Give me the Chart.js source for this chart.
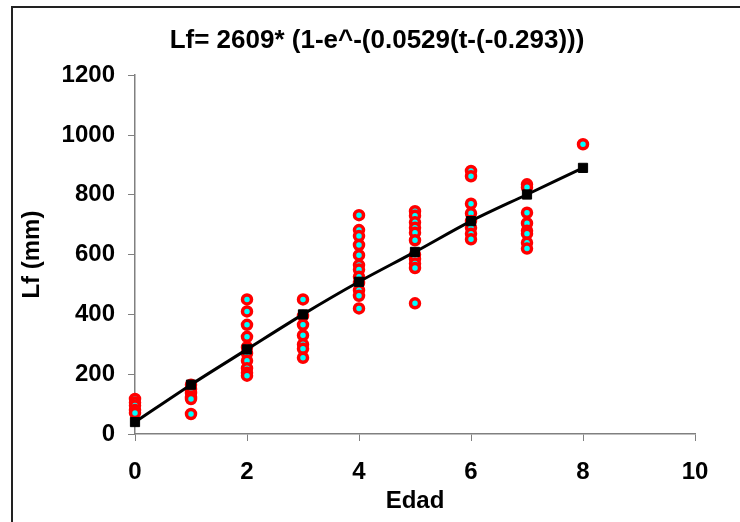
<!DOCTYPE html>
<html>
<head>
<meta charset="utf-8">
<script src="https://cdn.jsdelivr.net/npm/chart.js@4/dist/chart.umd.min.js"></script>
<style>
  html, body { margin: 0; padding: 0; background: #ffffff; }
  #wrap { width: 740px; height: 522px; position: relative; }
</style>
</head>
<body>
<div id="wrap"><canvas id="c" width="740" height="522"></canvas></div>
<script>
// ---- data ----
const chartTitle = "Lf= 2609* (1-e^-(0.0529(t-(-0.293)))";
const xTitle = "Edad";
const yTitle = "Lf (mm)";

const ages = [0, 1, 2, 3, 4, 5, 6, 7, 8];
// observed fork length (mm) per age group
const observedLf = [
  [117, 105, 95, 80, 70],
  [165, 150, 137, 125, 117, 67],
  [450, 410, 365, 325, 290, 270, 245, 220, 205, 195],
  [450, 395, 365, 330, 300, 285, 255],
  [732, 682, 662, 632, 598, 565, 550, 526, 505, 481, 462, 420],
  [745, 730, 708, 690, 673, 648, 600, 585, 570, 555, 437],
  [880, 862, 770, 738, 712, 690, 670, 651],
  [835, 825, 740, 705, 680, 670, 640, 620],
  [969]
];
// fitted von Bertalanffy curve values at each age
const fittedLf = [40, 165, 283, 400, 509, 609, 712, 801, 890];

const xTicks = { min: 0, max: 10, step: 2 };
const yTicks = { min: 0, max: 1200, step: 200 };

// ---- build datasets ----
const observedPoints = [];
observedLf.forEach((vals, i) => vals.forEach(v => observedPoints.push({ x: ages[i], y: v })));
const fittedPoints = ages.map((a, i) => ({ x: a, y: fittedLf[i] }));

const FONT = "'Liberation Sans', Arial, sans-serif";

const framePlugin = {
  id: 'frame',
  afterDraw(chart) {
    const ctx = chart.ctx;
    ctx.save();
    ctx.strokeStyle = '#222222';
    ctx.lineWidth = 2;
    ctx.beginPath();
    ctx.moveTo(12, 522);
    ctx.lineTo(12, 7);
    ctx.lineTo(740, 7);
    ctx.stroke();
    ctx.restore();
  }
};

new Chart(document.getElementById('c'), {
  type: 'scatter',
  data: {
    datasets: [
      {
        type: 'line',
        label: 'Ajuste',
        data: fittedPoints,
        borderColor: '#000000',
        borderWidth: 3,
        cubicInterpolationMode: 'monotone',
        pointStyle: 'rect',
        pointRadius: 6.5,
        pointBackgroundColor: '#000000',
        pointBorderColor: '#000000',
        pointBorderWidth: 1,
        fill: false,
        clip: false
      },
      {
        label: 'Observado',
        data: observedPoints,
        pointStyle: 'circle',
        pointRadius: 4.5,
        pointBorderWidth: 3.5,
        pointBackgroundColor: '#00ffff',
        pointBorderColor: '#ff0000',
        showLine: false,
        clip: false
      }
    ]
  },
  options: {
    responsive: false,
    animation: false,
    devicePixelRatio: 1,
    layout: { padding: { left: 14, right: 0, top: 0, bottom: 6 } },
    plugins: {
      legend: { display: false },
      tooltip: { enabled: false },
      title: {
        display: true,
        text: chartTitle,
        color: '#000000',
        font: { family: FONT, size: 26, weight: 'bold' },
        padding: { top: 25, bottom: 19 }
      }
    },
    scales: {
      x: {
        type: 'linear',
        min: xTicks.min,
        max: xTicks.max,
        afterFit(scale) { scale.height = 82; },
        ticks: {
          stepSize: xTicks.step,
          color: '#000000',
          padding: 17,
          maxRotation: 0,
          font: { family: FONT, size: 24, weight: 'bold' },
          callback: (v) => String(v)
        },
        grid: { drawOnChartArea: false, drawTicks: true, tickLength: 7, color: '#808080', lineWidth: 1 },
        border: { display: true, color: '#808080', width: 1.5 },
        title: {
          display: true,
          text: xTitle,
          color: '#000000',
          font: { family: FONT, size: 24, weight: 'bold' },
          padding: { top: 0, bottom: 0 }
        }
      },
      y: {
        type: 'linear',
        min: yTicks.min,
        max: yTicks.max,
        afterFit(scale) { scale.width = 121; },
        ticks: {
          stepSize: yTicks.step,
          color: '#000000',
          padding: 13,
          font: { family: FONT, size: 24, weight: 'bold' },
          callback: (v) => String(v)
        },
        grid: { drawOnChartArea: false, drawTicks: true, tickLength: 7, color: '#808080', lineWidth: 1 },
        border: { display: true, color: '#808080', width: 1.5 },
        title: {
          display: true,
          text: yTitle,
          color: '#000000',
          font: { family: FONT, size: 24, weight: 'bold' },
          padding: { top: 4, bottom: 0 }
        }
      },
      yRightSpace: {
        type: 'linear',
        position: 'right',
        display: true,
        min: yTicks.min,
        max: yTicks.max,
        afterFit(scale) { scale.width = 45; },
        ticks: { display: false },
        grid: { display: false, drawTicks: false },
        border: { display: false },
        title: { display: false }
      }
    }
  },
  plugins: [framePlugin]
});
</script>
</body>
</html>
